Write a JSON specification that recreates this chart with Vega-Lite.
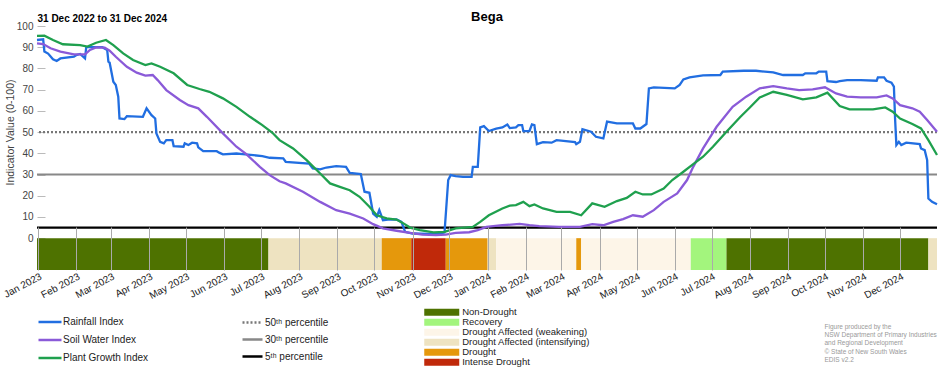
{
 "$schema": "https://vega.github.io/schema/vega-lite/v6.json",
 "width": 900, "height": 244,
 "autosize": "none",
 "padding": {"left": 37, "top": 26, "right": 15, "bottom": 100},
 "background": "white",
 "title": {"text": "Bega", "anchor": "middle", "frame": "group", "fontSize": 13, "fontWeight": "bold", "color": "black", "font": "Liberation Sans", "offset": -11},
 "config": {
  "view": {"stroke": null},
  "font": "Liberation Sans",
  "legend": {"orient": "none", "padding": 0, "labelFontSize": 10, "labelColor": "#222", "labelFont": "Liberation Sans"}
 },
 "datasets": {
  "strip": [
   {"s": "2022/12/31", "e": "2023/07/07", "cat": "Non-Drought"},
   {"s": "2023/07/07", "e": "2023/10/07", "cat": "Drought Affected (intensifying)"},
   {"s": "2023/10/07", "e": "2023/10/31", "cat": "Drought"},
   {"s": "2023/10/31", "e": "2023/11/28", "cat": "Intense Drought"},
   {"s": "2023/11/28", "e": "2024/01/01", "cat": "Drought"},
   {"s": "2024/01/01", "e": "2024/01/08", "cat": "Drought Affected (intensifying)"},
   {"s": "2024/01/08", "e": "2024/03/13", "cat": "Drought Affected (weakening)"},
   {"s": "2024/03/13", "e": "2024/03/17", "cat": "Drought"},
   {"s": "2024/03/17", "e": "2024/06/14", "cat": "Drought Affected (weakening)"},
   {"s": "2024/06/14", "e": "2024/07/13", "cat": "Recovery"},
   {"s": "2024/07/13", "e": "2024/12/24", "cat": "Non-Drought"},
   {"s": "2024/12/24", "e": "2024/12/31", "cat": "Drought Affected (intensifying)"}
  ],
  "pct": [
   {"p": "50ᵗʰ percentile", "v": 50},
   {"p": "30ᵗʰ percentile", "v": 30},
   {"p": "5ᵗʰ percentile", "v": 5}
  ],
  "idx": [
   {"s": "Rainfall Index", "d": "2022/12/31", "v": 93.4},
   {"s": "Rainfall Index", "d": "2023/01/05", "v": 93.7},
   {"s": "Rainfall Index", "d": "2023/01/06", "v": 88},
   {"s": "Rainfall Index", "d": "2023/01/09", "v": 87},
   {"s": "Rainfall Index", "d": "2023/01/13", "v": 84.3},
   {"s": "Rainfall Index", "d": "2023/01/16", "v": 83.5},
   {"s": "Rainfall Index", "d": "2023/01/19", "v": 84.7},
   {"s": "Rainfall Index", "d": "2023/01/30", "v": 85.5},
   {"s": "Rainfall Index", "d": "2023/02/01", "v": 86.3},
   {"s": "Rainfall Index", "d": "2023/02/04", "v": 86.8},
   {"s": "Rainfall Index", "d": "2023/02/08", "v": 84.7},
   {"s": "Rainfall Index", "d": "2023/02/09", "v": 90},
   {"s": "Rainfall Index", "d": "2023/02/22", "v": 90},
   {"s": "Rainfall Index", "d": "2023/02/26", "v": 88.7},
   {"s": "Rainfall Index", "d": "2023/02/27", "v": 83.2},
   {"s": "Rainfall Index", "d": "2023/02/28", "v": 82.7},
   {"s": "Rainfall Index", "d": "2023/03/03", "v": 73.7},
   {"s": "Rainfall Index", "d": "2023/03/05", "v": 72.2},
   {"s": "Rainfall Index", "d": "2023/03/07", "v": 66.7},
   {"s": "Rainfall Index", "d": "2023/03/08", "v": 56.4},
   {"s": "Rainfall Index", "d": "2023/03/12", "v": 56.1},
   {"s": "Rainfall Index", "d": "2023/03/14", "v": 57.5},
   {"s": "Rainfall Index", "d": "2023/03/27", "v": 57.2},
   {"s": "Rainfall Index", "d": "2023/03/30", "v": 61.2},
   {"s": "Rainfall Index", "d": "2023/04/03", "v": 58},
   {"s": "Rainfall Index", "d": "2023/04/06", "v": 56.4},
   {"s": "Rainfall Index", "d": "2023/04/07", "v": 49.4},
   {"s": "Rainfall Index", "d": "2023/04/10", "v": 45.4},
   {"s": "Rainfall Index", "d": "2023/04/13", "v": 44.7},
   {"s": "Rainfall Index", "d": "2023/04/15", "v": 46.2},
   {"s": "Rainfall Index", "d": "2023/04/20", "v": 46.2},
   {"s": "Rainfall Index", "d": "2023/04/21", "v": 43.4},
   {"s": "Rainfall Index", "d": "2023/04/29", "v": 43.1},
   {"s": "Rainfall Index", "d": "2023/04/30", "v": 44.7},
   {"s": "Rainfall Index", "d": "2023/05/03", "v": 43.9},
   {"s": "Rainfall Index", "d": "2023/05/06", "v": 45},
   {"s": "Rainfall Index", "d": "2023/05/10", "v": 44.7},
   {"s": "Rainfall Index", "d": "2023/05/11", "v": 42.8},
   {"s": "Rainfall Index", "d": "2023/05/15", "v": 41},
   {"s": "Rainfall Index", "d": "2023/05/26", "v": 41},
   {"s": "Rainfall Index", "d": "2023/05/28", "v": 40.3},
   {"s": "Rainfall Index", "d": "2023/05/31", "v": 39.5},
   {"s": "Rainfall Index", "d": "2023/06/11", "v": 39.9},
   {"s": "Rainfall Index", "d": "2023/06/16", "v": 39.6},
   {"s": "Rainfall Index", "d": "2023/07/02", "v": 38.7},
   {"s": "Rainfall Index", "d": "2023/07/08", "v": 37.9},
   {"s": "Rainfall Index", "d": "2023/07/19", "v": 37.6},
   {"s": "Rainfall Index", "d": "2023/07/21", "v": 36},
   {"s": "Rainfall Index", "d": "2023/08/09", "v": 35.2},
   {"s": "Rainfall Index", "d": "2023/08/12", "v": 32.9},
   {"s": "Rainfall Index", "d": "2023/08/18", "v": 32.4},
   {"s": "Rainfall Index", "d": "2023/08/23", "v": 33.3},
   {"s": "Rainfall Index", "d": "2023/08/31", "v": 34},
   {"s": "Rainfall Index", "d": "2023/09/08", "v": 33.6},
   {"s": "Rainfall Index", "d": "2023/09/11", "v": 30.8},
   {"s": "Rainfall Index", "d": "2023/09/20", "v": 30.2},
   {"s": "Rainfall Index", "d": "2023/09/23", "v": 21.9},
   {"s": "Rainfall Index", "d": "2023/09/27", "v": 21.4},
   {"s": "Rainfall Index", "d": "2023/09/30", "v": 11.6},
   {"s": "Rainfall Index", "d": "2023/10/03", "v": 10.1},
   {"s": "Rainfall Index", "d": "2023/10/05", "v": 13.2},
   {"s": "Rainfall Index", "d": "2023/10/08", "v": 8.5},
   {"s": "Rainfall Index", "d": "2023/10/12", "v": 8.8},
   {"s": "Rainfall Index", "d": "2023/10/19", "v": 8.8},
   {"s": "Rainfall Index", "d": "2023/10/23", "v": 7.7},
   {"s": "Rainfall Index", "d": "2023/10/26", "v": 3},
   {"s": "Rainfall Index", "d": "2023/11/01", "v": 2.2},
   {"s": "Rainfall Index", "d": "2023/11/20", "v": 1.9},
   {"s": "Rainfall Index", "d": "2023/11/27", "v": 2.7},
   {"s": "Rainfall Index", "d": "2023/11/30", "v": 27.4},
   {"s": "Rainfall Index", "d": "2023/12/02", "v": 29.7},
   {"s": "Rainfall Index", "d": "2023/12/06", "v": 29.2},
   {"s": "Rainfall Index", "d": "2023/12/12", "v": 28.9},
   {"s": "Rainfall Index", "d": "2023/12/19", "v": 28.9},
   {"s": "Rainfall Index", "d": "2023/12/20", "v": 33.6},
   {"s": "Rainfall Index", "d": "2023/12/24", "v": 33.6},
   {"s": "Rainfall Index", "d": "2023/12/26", "v": 52.2},
   {"s": "Rainfall Index", "d": "2023/12/29", "v": 52.8},
   {"s": "Rainfall Index", "d": "2024/01/02", "v": 50.5},
   {"s": "Rainfall Index", "d": "2024/01/08", "v": 51.6},
   {"s": "Rainfall Index", "d": "2024/01/13", "v": 52.2},
   {"s": "Rainfall Index", "d": "2024/01/17", "v": 53.6},
   {"s": "Rainfall Index", "d": "2024/01/19", "v": 51.9},
   {"s": "Rainfall Index", "d": "2024/01/24", "v": 52.2},
   {"s": "Rainfall Index", "d": "2024/01/26", "v": 53.3},
   {"s": "Rainfall Index", "d": "2024/01/29", "v": 53.3},
   {"s": "Rainfall Index", "d": "2024/01/30", "v": 50.5},
   {"s": "Rainfall Index", "d": "2024/02/04", "v": 50.5},
   {"s": "Rainfall Index", "d": "2024/02/06", "v": 53.6},
   {"s": "Rainfall Index", "d": "2024/02/08", "v": 53.3},
   {"s": "Rainfall Index", "d": "2024/02/10", "v": 44.3},
   {"s": "Rainfall Index", "d": "2024/02/15", "v": 45.3},
   {"s": "Rainfall Index", "d": "2024/02/22", "v": 45},
   {"s": "Rainfall Index", "d": "2024/02/26", "v": 46.2},
   {"s": "Rainfall Index", "d": "2024/03/12", "v": 45.3},
   {"s": "Rainfall Index", "d": "2024/03/13", "v": 44.3},
   {"s": "Rainfall Index", "d": "2024/03/16", "v": 45.4},
   {"s": "Rainfall Index", "d": "2024/03/18", "v": 51.4},
   {"s": "Rainfall Index", "d": "2024/03/25", "v": 50.2},
   {"s": "Rainfall Index", "d": "2024/03/29", "v": 47.8},
   {"s": "Rainfall Index", "d": "2024/04/04", "v": 47},
   {"s": "Rainfall Index", "d": "2024/04/07", "v": 54.9},
   {"s": "Rainfall Index", "d": "2024/04/15", "v": 54.1},
   {"s": "Rainfall Index", "d": "2024/04/28", "v": 54.1},
   {"s": "Rainfall Index", "d": "2024/04/30", "v": 51.7},
   {"s": "Rainfall Index", "d": "2024/05/04", "v": 51.7},
   {"s": "Rainfall Index", "d": "2024/05/09", "v": 53.8},
   {"s": "Rainfall Index", "d": "2024/05/11", "v": 70.6},
   {"s": "Rainfall Index", "d": "2024/05/15", "v": 71.1},
   {"s": "Rainfall Index", "d": "2024/06/01", "v": 70.6},
   {"s": "Rainfall Index", "d": "2024/06/05", "v": 72.2},
   {"s": "Rainfall Index", "d": "2024/06/08", "v": 74.8},
   {"s": "Rainfall Index", "d": "2024/06/13", "v": 75.8},
   {"s": "Rainfall Index", "d": "2024/06/24", "v": 76.7},
   {"s": "Rainfall Index", "d": "2024/07/08", "v": 76.9},
   {"s": "Rainfall Index", "d": "2024/07/10", "v": 78.5},
   {"s": "Rainfall Index", "d": "2024/07/27", "v": 78.9},
   {"s": "Rainfall Index", "d": "2024/08/06", "v": 78.9},
   {"s": "Rainfall Index", "d": "2024/08/20", "v": 78.1},
   {"s": "Rainfall Index", "d": "2024/08/28", "v": 76.9},
   {"s": "Rainfall Index", "d": "2024/09/13", "v": 76.9},
   {"s": "Rainfall Index", "d": "2024/09/15", "v": 77.7},
   {"s": "Rainfall Index", "d": "2024/09/24", "v": 77.7},
   {"s": "Rainfall Index", "d": "2024/09/26", "v": 78.5},
   {"s": "Rainfall Index", "d": "2024/10/02", "v": 78.5},
   {"s": "Rainfall Index", "d": "2024/10/03", "v": 74},
   {"s": "Rainfall Index", "d": "2024/10/10", "v": 73.6},
   {"s": "Rainfall Index", "d": "2024/10/13", "v": 74},
   {"s": "Rainfall Index", "d": "2024/10/19", "v": 74.5},
   {"s": "Rainfall Index", "d": "2024/10/30", "v": 74.5},
   {"s": "Rainfall Index", "d": "2024/11/12", "v": 74.2},
   {"s": "Rainfall Index", "d": "2024/11/13", "v": 75.8},
   {"s": "Rainfall Index", "d": "2024/11/18", "v": 75.8},
   {"s": "Rainfall Index", "d": "2024/11/20", "v": 74.2},
   {"s": "Rainfall Index", "d": "2024/11/24", "v": 73.3},
   {"s": "Rainfall Index", "d": "2024/11/26", "v": 71.4},
   {"s": "Rainfall Index", "d": "2024/11/27", "v": 55.7},
   {"s": "Rainfall Index", "d": "2024/11/28", "v": 43.9},
   {"s": "Rainfall Index", "d": "2024/11/30", "v": 45.4},
   {"s": "Rainfall Index", "d": "2024/12/02", "v": 43.9},
   {"s": "Rainfall Index", "d": "2024/12/06", "v": 45},
   {"s": "Rainfall Index", "d": "2024/12/17", "v": 44.3},
   {"s": "Rainfall Index", "d": "2024/12/18", "v": 42.3},
   {"s": "Rainfall Index", "d": "2024/12/21", "v": 41.5},
   {"s": "Rainfall Index", "d": "2024/12/23", "v": 36.8},
   {"s": "Rainfall Index", "d": "2024/12/24", "v": 18.7},
   {"s": "Rainfall Index", "d": "2024/12/27", "v": 17.1},
   {"s": "Rainfall Index", "d": "2024/12/31", "v": 16},
   {"s": "Soil Water Index", "d": "2022/12/31", "v": 91.8},
   {"s": "Soil Water Index", "d": "2023/01/05", "v": 91.5},
   {"s": "Soil Water Index", "d": "2023/01/11", "v": 89.5},
   {"s": "Soil Water Index", "d": "2023/01/19", "v": 87.9},
   {"s": "Soil Water Index", "d": "2023/01/30", "v": 86.6},
   {"s": "Soil Water Index", "d": "2023/02/08", "v": 86.6},
   {"s": "Soil Water Index", "d": "2023/02/12", "v": 88.7},
   {"s": "Soil Water Index", "d": "2023/02/17", "v": 89.9},
   {"s": "Soil Water Index", "d": "2023/02/24", "v": 89.8},
   {"s": "Soil Water Index", "d": "2023/02/28", "v": 88.4},
   {"s": "Soil Water Index", "d": "2023/03/05", "v": 85.5},
   {"s": "Soil Water Index", "d": "2023/03/14", "v": 80.8},
   {"s": "Soil Water Index", "d": "2023/03/22", "v": 78},
   {"s": "Soil Water Index", "d": "2023/03/29", "v": 76.6},
   {"s": "Soil Water Index", "d": "2023/04/04", "v": 76.9},
   {"s": "Soil Water Index", "d": "2023/04/08", "v": 74.5},
   {"s": "Soil Water Index", "d": "2023/04/15", "v": 69.8},
   {"s": "Soil Water Index", "d": "2023/04/26", "v": 65.1},
   {"s": "Soil Water Index", "d": "2023/05/03", "v": 62.7},
   {"s": "Soil Water Index", "d": "2023/05/11", "v": 61.2},
   {"s": "Soil Water Index", "d": "2023/05/18", "v": 57.2},
   {"s": "Soil Water Index", "d": "2023/05/31", "v": 49.4},
   {"s": "Soil Water Index", "d": "2023/06/11", "v": 43.1},
   {"s": "Soil Water Index", "d": "2023/06/19", "v": 39.6},
   {"s": "Soil Water Index", "d": "2023/06/30", "v": 33.6},
   {"s": "Soil Water Index", "d": "2023/07/08", "v": 29.7},
   {"s": "Soil Water Index", "d": "2023/07/16", "v": 26.8},
   {"s": "Soil Water Index", "d": "2023/07/21", "v": 25.8},
   {"s": "Soil Water Index", "d": "2023/08/04", "v": 21.9},
   {"s": "Soil Water Index", "d": "2023/08/18", "v": 17.1},
   {"s": "Soil Water Index", "d": "2023/08/31", "v": 13.2},
   {"s": "Soil Water Index", "d": "2023/09/11", "v": 11.6},
   {"s": "Soil Water Index", "d": "2023/09/22", "v": 9.3},
   {"s": "Soil Water Index", "d": "2023/09/30", "v": 6.6},
   {"s": "Soil Water Index", "d": "2023/10/08", "v": 4.6},
   {"s": "Soil Water Index", "d": "2023/10/19", "v": 3.5},
   {"s": "Soil Water Index", "d": "2023/10/30", "v": 2.5},
   {"s": "Soil Water Index", "d": "2023/11/09", "v": 1.7},
   {"s": "Soil Water Index", "d": "2023/11/20", "v": 1.4},
   {"s": "Soil Water Index", "d": "2023/11/28", "v": 1.7},
   {"s": "Soil Water Index", "d": "2023/12/06", "v": 2.5},
   {"s": "Soil Water Index", "d": "2023/12/17", "v": 2.8},
   {"s": "Soil Water Index", "d": "2023/12/24", "v": 3.8},
   {"s": "Soil Water Index", "d": "2023/12/31", "v": 5.3},
   {"s": "Soil Water Index", "d": "2024/01/13", "v": 6.1},
   {"s": "Soil Water Index", "d": "2024/01/27", "v": 6.7},
   {"s": "Soil Water Index", "d": "2024/02/04", "v": 6.1},
   {"s": "Soil Water Index", "d": "2024/02/12", "v": 5.7},
   {"s": "Soil Water Index", "d": "2024/02/28", "v": 5.3},
   {"s": "Soil Water Index", "d": "2024/03/16", "v": 5.3},
   {"s": "Soil Water Index", "d": "2024/03/26", "v": 6.6},
   {"s": "Soil Water Index", "d": "2024/04/04", "v": 6.1},
   {"s": "Soil Water Index", "d": "2024/04/12", "v": 7.7},
   {"s": "Soil Water Index", "d": "2024/04/20", "v": 9},
   {"s": "Soil Water Index", "d": "2024/04/28", "v": 10.8},
   {"s": "Soil Water Index", "d": "2024/05/06", "v": 10.1},
   {"s": "Soil Water Index", "d": "2024/05/15", "v": 13.2},
   {"s": "Soil Water Index", "d": "2024/05/23", "v": 17.1},
   {"s": "Soil Water Index", "d": "2024/06/03", "v": 21.1},
   {"s": "Soil Water Index", "d": "2024/06/11", "v": 27.4},
   {"s": "Soil Water Index", "d": "2024/06/16", "v": 33.6},
   {"s": "Soil Water Index", "d": "2024/06/24", "v": 42.3},
   {"s": "Soil Water Index", "d": "2024/07/05", "v": 52.5},
   {"s": "Soil Water Index", "d": "2024/07/18", "v": 61.9},
   {"s": "Soil Water Index", "d": "2024/07/29", "v": 66.7},
   {"s": "Soil Water Index", "d": "2024/08/09", "v": 70.6},
   {"s": "Soil Water Index", "d": "2024/08/20", "v": 71.7},
   {"s": "Soil Water Index", "d": "2024/08/31", "v": 70.6},
   {"s": "Soil Water Index", "d": "2024/09/10", "v": 69.8},
   {"s": "Soil Water Index", "d": "2024/09/21", "v": 70.1},
   {"s": "Soil Water Index", "d": "2024/10/01", "v": 71.1},
   {"s": "Soil Water Index", "d": "2024/10/10", "v": 68.2},
   {"s": "Soil Water Index", "d": "2024/10/19", "v": 66.7},
   {"s": "Soil Water Index", "d": "2024/10/30", "v": 66.4},
   {"s": "Soil Water Index", "d": "2024/11/12", "v": 66.4},
   {"s": "Soil Water Index", "d": "2024/11/20", "v": 67.3},
   {"s": "Soil Water Index", "d": "2024/11/25", "v": 65.9},
   {"s": "Soil Water Index", "d": "2024/12/01", "v": 62.7},
   {"s": "Soil Water Index", "d": "2024/12/11", "v": 61.2},
   {"s": "Soil Water Index", "d": "2024/12/17", "v": 59.6},
   {"s": "Soil Water Index", "d": "2024/12/23", "v": 55.7},
   {"s": "Soil Water Index", "d": "2024/12/31", "v": 50.2},
   {"s": "Plant Growth Index", "d": "2022/12/31", "v": 95.3},
   {"s": "Plant Growth Index", "d": "2023/01/06", "v": 95.4},
   {"s": "Plant Growth Index", "d": "2023/01/13", "v": 93.4},
   {"s": "Plant Growth Index", "d": "2023/01/21", "v": 91.4},
   {"s": "Plant Growth Index", "d": "2023/02/04", "v": 91},
   {"s": "Plant Growth Index", "d": "2023/02/10", "v": 90.3},
   {"s": "Plant Growth Index", "d": "2023/02/17", "v": 92.1},
   {"s": "Plant Growth Index", "d": "2023/02/25", "v": 93.4},
   {"s": "Plant Growth Index", "d": "2023/03/03", "v": 91},
   {"s": "Plant Growth Index", "d": "2023/03/11", "v": 87.1},
   {"s": "Plant Growth Index", "d": "2023/03/19", "v": 84},
   {"s": "Plant Growth Index", "d": "2023/03/29", "v": 81.6},
   {"s": "Plant Growth Index", "d": "2023/04/03", "v": 82.4},
   {"s": "Plant Growth Index", "d": "2023/04/10", "v": 80.8},
   {"s": "Plant Growth Index", "d": "2023/04/21", "v": 77.7},
   {"s": "Plant Growth Index", "d": "2023/05/02", "v": 72.2},
   {"s": "Plant Growth Index", "d": "2023/05/12", "v": 70.3},
   {"s": "Plant Growth Index", "d": "2023/05/20", "v": 69},
   {"s": "Plant Growth Index", "d": "2023/05/31", "v": 65.9},
   {"s": "Plant Growth Index", "d": "2023/06/11", "v": 61.9},
   {"s": "Plant Growth Index", "d": "2023/06/22", "v": 57.2},
   {"s": "Plant Growth Index", "d": "2023/07/02", "v": 53.3},
   {"s": "Plant Growth Index", "d": "2023/07/10", "v": 49.8},
   {"s": "Plant Growth Index", "d": "2023/07/16", "v": 46.2},
   {"s": "Plant Growth Index", "d": "2023/07/27", "v": 42.3},
   {"s": "Plant Growth Index", "d": "2023/08/07", "v": 36.8},
   {"s": "Plant Growth Index", "d": "2023/08/18", "v": 30.5},
   {"s": "Plant Growth Index", "d": "2023/08/26", "v": 25.8},
   {"s": "Plant Growth Index", "d": "2023/09/03", "v": 24.2},
   {"s": "Plant Growth Index", "d": "2023/09/11", "v": 22.6},
   {"s": "Plant Growth Index", "d": "2023/09/19", "v": 19.5},
   {"s": "Plant Growth Index", "d": "2023/09/27", "v": 14.8},
   {"s": "Plant Growth Index", "d": "2023/10/03", "v": 10.8},
   {"s": "Plant Growth Index", "d": "2023/10/11", "v": 9.3},
   {"s": "Plant Growth Index", "d": "2023/10/19", "v": 8.8},
   {"s": "Plant Growth Index", "d": "2023/10/24", "v": 7.2},
   {"s": "Plant Growth Index", "d": "2023/10/30", "v": 5},
   {"s": "Plant Growth Index", "d": "2023/11/07", "v": 3.8},
   {"s": "Plant Growth Index", "d": "2023/11/18", "v": 2.7},
   {"s": "Plant Growth Index", "d": "2023/11/27", "v": 3},
   {"s": "Plant Growth Index", "d": "2023/12/06", "v": 4.6},
   {"s": "Plant Growth Index", "d": "2023/12/20", "v": 5.3},
   {"s": "Plant Growth Index", "d": "2023/12/26", "v": 7.7},
   {"s": "Plant Growth Index", "d": "2024/01/02", "v": 10.8},
   {"s": "Plant Growth Index", "d": "2024/01/13", "v": 14},
   {"s": "Plant Growth Index", "d": "2024/01/19", "v": 15.3},
   {"s": "Plant Growth Index", "d": "2024/01/24", "v": 15.6},
   {"s": "Plant Growth Index", "d": "2024/01/30", "v": 17.1},
   {"s": "Plant Growth Index", "d": "2024/02/04", "v": 15.1},
   {"s": "Plant Growth Index", "d": "2024/02/08", "v": 15.9},
   {"s": "Plant Growth Index", "d": "2024/02/15", "v": 14},
   {"s": "Plant Growth Index", "d": "2024/02/26", "v": 12.4},
   {"s": "Plant Growth Index", "d": "2024/03/08", "v": 12.4},
   {"s": "Plant Growth Index", "d": "2024/03/17", "v": 10.8},
   {"s": "Plant Growth Index", "d": "2024/03/26", "v": 16.4},
   {"s": "Plant Growth Index", "d": "2024/04/05", "v": 14.8},
   {"s": "Plant Growth Index", "d": "2024/04/15", "v": 17.5},
   {"s": "Plant Growth Index", "d": "2024/04/23", "v": 19},
   {"s": "Plant Growth Index", "d": "2024/04/30", "v": 21.9},
   {"s": "Plant Growth Index", "d": "2024/05/06", "v": 20.6},
   {"s": "Plant Growth Index", "d": "2024/05/13", "v": 20.6},
   {"s": "Plant Growth Index", "d": "2024/05/23", "v": 23.4},
   {"s": "Plant Growth Index", "d": "2024/05/30", "v": 27.4},
   {"s": "Plant Growth Index", "d": "2024/06/08", "v": 31.3},
   {"s": "Plant Growth Index", "d": "2024/06/16", "v": 34.9},
   {"s": "Plant Growth Index", "d": "2024/06/24", "v": 38.4},
   {"s": "Plant Growth Index", "d": "2024/07/02", "v": 43.1},
   {"s": "Plant Growth Index", "d": "2024/07/13", "v": 50.2},
   {"s": "Plant Growth Index", "d": "2024/07/24", "v": 57},
   {"s": "Plant Growth Index", "d": "2024/08/01", "v": 61.6},
   {"s": "Plant Growth Index", "d": "2024/08/09", "v": 66.3},
   {"s": "Plant Growth Index", "d": "2024/08/20", "v": 69},
   {"s": "Plant Growth Index", "d": "2024/08/31", "v": 67.5},
   {"s": "Plant Growth Index", "d": "2024/09/13", "v": 65.4},
   {"s": "Plant Growth Index", "d": "2024/09/24", "v": 66.4},
   {"s": "Plant Growth Index", "d": "2024/10/03", "v": 68.6},
   {"s": "Plant Growth Index", "d": "2024/10/13", "v": 62.3},
   {"s": "Plant Growth Index", "d": "2024/10/21", "v": 60.7},
   {"s": "Plant Growth Index", "d": "2024/11/09", "v": 60.7},
   {"s": "Plant Growth Index", "d": "2024/11/19", "v": 61.6},
   {"s": "Plant Growth Index", "d": "2024/11/25", "v": 59.6},
   {"s": "Plant Growth Index", "d": "2024/12/01", "v": 56.4},
   {"s": "Plant Growth Index", "d": "2024/12/11", "v": 53.8},
   {"s": "Plant Growth Index", "d": "2024/12/18", "v": 51.7},
   {"s": "Plant Growth Index", "d": "2024/12/24", "v": 46.2},
   {"s": "Plant Growth Index", "d": "2024/12/31", "v": 39.2}
  ]
 },
 "layer": [
  {
   "data": {"name": "strip"},
   "mark": {"type": "rect"},
   "encoding": {
    "x": {"field": "s", "type": "temporal",
     "scale": {"domain": [{"year": 2022, "month": 12, "date": 31}, {"year": 2024, "month": 12, "date": 31}]},
     "axis": {"orient": "top", "labels": false, "ticks": false, "domain": false, "grid": false,
      "title": "31 Dec 2022 to 31 Dec 2024", "titleX": 0, "titleY": -5, "titleAlign": "left", "titleAnchor": "start",
      "titleBaseline": "alphabetic", "titleFontSize": 10, "titleFontWeight": "bold", "titleColor": "black"}},
    "x2": {"field": "e"},
    "y": {"datum": 0, "type": "quantitative", "scale": {"domain": [-15, 100], "nice": false, "zero": false},
     "axis": {"values": [0, 10, 20, 30, 40, 50, 60, 70, 80, 90, 100], "domain": false, "grid": false, "labelOverlap": false,
      "tickSize": -8, "tickColor": "#bbb", "labelFontSize": 10, "labelColor": "#444", "labelPadding": 12,
      "title": "Indicator Value (0-100)", "titleFontSize": 10.5, "titleFontWeight": "normal", "titleColor": "#444",
      "titleY": 106, "titleX": -22}},
    "y2": {"datum": -15},
    "color": {"field": "cat", "type": "nominal",
     "scale": {"domain": ["Non-Drought", "Recovery", "Drought Affected (weakening)", "Drought Affected (intensifying)", "Drought", "Intense Drought"],
      "range": ["#4E7200", "#A3F57D", "#FDF5E8", "#EEE3C1", "#E5980C", "#C0290A"]},
     "legend": {"title": null, "legendX": 400, "legendY": 281.5, "symbolType": "M-5,-1H5V1H-5Z", "symbolSize": 49, "symbolStrokeWidth": 0, "labelFontSize": 9.5, "rowPadding": -1.3, "labelOffset": 15.7}}
   }
  },
  {
   "data": {"name": "pct"},
   "mark": {"type": "rule", "strokeWidth": 2.2},
   "encoding": {
    "y": {"field": "v", "type": "quantitative",
     "axis": {"values": [0, 10, 20, 30, 40, 50, 60, 70, 80, 90, 100], "domain": false, "grid": false, "labelOverlap": false,
      "tickSize": -8, "tickColor": "#bbb", "labelFontSize": 10, "labelColor": "#444", "labelPadding": 12,
      "title": "Indicator Value (0-100)", "titleFontSize": 10.5, "titleFontWeight": "normal", "titleColor": "#444",
      "titleY": 106, "titleX": -22}},
    "color": {"field": "p", "type": "nominal",
     "scale": {"domain": ["50ᵗʰ percentile", "30ᵗʰ percentile", "5ᵗʰ percentile"], "range": ["#777777", "#888888", "#000000"]},
     "legend": {"title": null, "legendX": 204, "legendY": 285, "symbolType": "stroke", "symbolSize": 400, "symbolStrokeWidth": 2.5, "rowPadding": -4.5, "labelFontSize": 10, "labelOffset": 1}},
    "strokeDash": {"field": "p", "type": "nominal",
     "scale": {"domain": ["50ᵗʰ percentile", "30ᵗʰ percentile", "5ᵗʰ percentile"], "range": [[2, 2], [1, 0], [1, 0]]},
     "legend": {"title": null, "legendX": 204, "legendY": 285, "symbolType": "stroke", "symbolSize": 400, "symbolStrokeWidth": 2.5, "rowPadding": -4.5, "labelFontSize": 10, "labelOffset": 1}}
   }
  },
  {
   "data": {"name": "idx"},
   "mark": {"type": "line", "strokeWidth": 2.3},
   "encoding": {
    "x": {"field": "d", "type": "temporal",
     "axis": {"orient": "bottom", "format": "%b %Y", "tickCount": {"interval": "month", "step": 1},
      "labelAngle": -28, "labelAlign": "right", "labelBaseline": "top", "labelFontSize": 10, "labelColor": "#222",
      "labelPadding": 44, "labelFlush": false, "labelOverlap": false,
      "tickSize": -43, "tickColor": "#aaaaaa", "domain": false, "grid": false, "zindex": 1,
      "title": ["Figure produced by the", "NSW Department of Primary Industries", "and Regional Development", "© State of New South Wales", "EDIS v2.2"],
      "titleX": 787, "titleY": 53, "titleAlign": "left", "titleAnchor": "start", "titleBaseline": "top",
      "titleFontSize": 6.5, "titleFontWeight": "normal", "titleColor": "#999999", "titleLineHeight": 8.4}},
    "y": {"field": "v", "type": "quantitative",
     "axis": {"values": [0, 10, 20, 30, 40, 50, 60, 70, 80, 90, 100], "domain": false, "grid": false, "labelOverlap": false,
      "tickSize": -8, "tickColor": "#bbb", "labelFontSize": 10, "labelColor": "#444", "labelPadding": 12,
      "title": "Indicator Value (0-100)", "titleFontSize": 10.5, "titleFontWeight": "normal", "titleColor": "#444",
      "titleY": 106, "titleX": -22}},
    "color": {"field": "s", "type": "nominal",
     "scale": {"domain": ["Rainfall Index", "Soil Water Index", "Plant Growth Index"], "range": ["#216EE1", "#8A5AD8", "#1FA04E"]},
     "legend": {"title": null, "legendX": 0, "legendY": 283, "symbolType": "stroke", "symbolSize": 529, "symbolStrokeWidth": 2.5, "rowPadding": -5.3, "labelFontSize": 10, "labelOffset": 0}}
   }
  }
 ],
 "resolve": {"scale": {"color": "independent", "strokeDash": "independent"}, "axis": {"x": "independent"}}
}
